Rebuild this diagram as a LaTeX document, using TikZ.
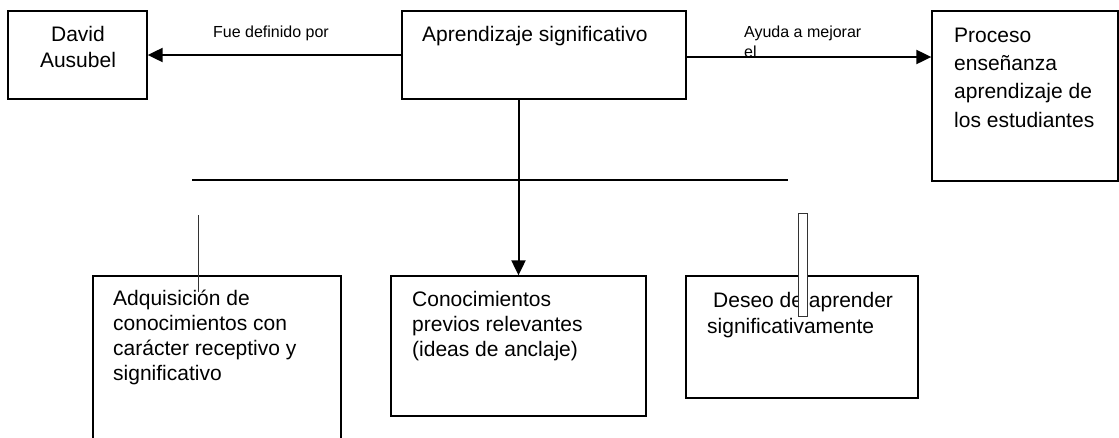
\documentclass[tikz,border=0pt]{standalone}
\usepackage{fontspec}
\setmainfont{Liberation Sans}
\usetikzlibrary{arrows.meta}
\begin{document}
\begin{tikzpicture}[x=1pt,y=-1pt,
  box/.style={draw, line width=1.3pt, inner sep=0pt},
  big/.style={font=\fontsize{21}{25}\selectfont, inner sep=0pt, align=left},
  small/.style={font=\fontsize{16}{20}\selectfont, inner sep=0pt, align=left},
  conn/.style={line width=2pt, -{Triangle[length=15pt,width=14pt]}},
  plain/.style={line width=1.6pt}]
\useasboundingbox (0,0) rectangle (1119,437);
\clip (0,0) rectangle (1119,437);
% boxes
\node[box, minimum width=139pt, minimum height=88pt] (david) at (77.5,55) {};
\node[box, minimum width=284pt, minimum height=88pt] (main) at (544,55) {};
\node[box, minimum width=186pt, minimum height=170pt] (proceso) at (1025,96) {};
\node[box, minimum width=248pt, minimum height=190pt] (adq) at (217,371) {};
\node[box, minimum width=255pt, minimum height=140pt] (mid) at (518.5,346) {};
\node[box, minimum width=232pt, minimum height=122pt] (deseo) at (802,337) {};
% texts (base anchor = baseline of the last line)
\node[big, align=center, anchor=base, font=\fontsize{21}{26}\selectfont] (tdavid) at (78,67) {David\\Ausubel};
\node[big, anchor=base west] (tmain) at (422,41) {Aprendizaje significativo};
\node[big, anchor=base west, font=\fontsize{21}{28.3}\selectfont] (tproc) at (954,127) {Proceso\\enseñanza\\aprendizaje de\\los estudiantes};
\node[big, anchor=base west] (tadq) at (113,380) {Adquisición de\\conocimientos con\\carácter receptivo y\\significativo};
\node[big, anchor=base west] (tmid) at (412,356) {Conocimientos\\previos relevantes\\(ideas de anclaje)};
\node[big, anchor=base west, font=\fontsize{21}{26}\selectfont] (tdeseo) at (707,333) {\hspace{6pt}Deseo de aprender\\significativamente};
\node[small, anchor=base west] (lfue) at (213,37) {Fue definido por};
\node[small, anchor=base west] (layuda) at (744,57) {Ayuda a mejorar\\el};
% connectors
\draw[conn] (main.west) -- (david.east);
\draw[conn] ([yshift=-2pt]main.east) -- ([yshift=-2pt]main.east -| proceso.west);
\draw[conn] (mid.north |- main.south) -- (mid.north);
% loose lines
\coordinate (h1) at (192,180);
\coordinate (h2) at (788,180);
\draw[plain] (h1) -- (h2);
\coordinate (v1) at (198,215);
\coordinate (v2) at (198,292);
\draw[line width=0.9pt, black!80] (v1) -- (v2);
\node[draw=black!80, fill=white, line width=0.9pt, inner sep=0pt, minimum width=9pt, minimum height=103pt] (bar) at (802.5,264.5) {};
\end{tikzpicture}
\end{document}
